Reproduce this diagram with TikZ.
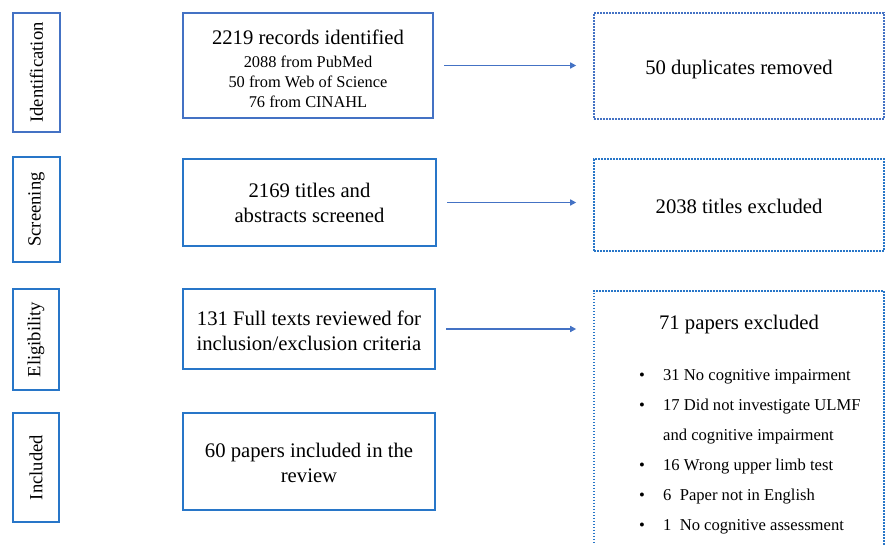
\documentclass[tikz,border=0pt]{standalone}
\usepackage{fontspec}
\setmainfont{Liberation Serif}
\usetikzlibrary{arrows.meta}

\definecolor{blueA}{RGB}{68,114,196}
\definecolor{blueB}{RGB}{40,118,200}

\newcommand{\mainfs}{\fontsize{20.7}{25}\selectfont}
\newcommand{\subfs}{\fontsize{16.4}{20}\selectfont}
\newcommand{\labfs}{\fontsize{18.6}{22}\selectfont}
\newcommand{\listfs}{\fontsize{16.6}{30}\selectfont}
\newcommand{\bitem}{\makebox[24pt][l]{\textbullet}}

\tikzset{
  stage/.style={draw=blueB, line width=2pt, rotate=90, inner sep=0pt, font=\labfs},
  stepbox/.style={draw=blueB, line width=2pt, align=center, inner sep=0pt, font=\mainfs},
  outbox/.style={draw=blueB, line width=1.6pt, dash pattern=on 1.6pt off 1.4pt, align=center, inner sep=0pt,
    text height=17.6pt, text depth=0pt, font=\mainfs},
  flow/.style={draw=blueA, line width=1.8pt, -{Triangle[length=6pt,width=6pt]}, shorten <=10pt, shorten >=17pt}
}

\begin{document}
\begin{tikzpicture}[x=1pt, y=-1pt]
\useasboundingbox (0,0) rectangle (886,545);
\clip (0,0) rectangle (886,545);

% Identification
\node[stage, draw=blueA, minimum width=119pt, minimum height=47pt] (ident) at (36.5,72.5) {Identification};
\node[stepbox, draw=blueA, font=\subfs, minimum width=250pt, minimum height=105pt] (rec) at (308,65.5)
  {\rule{0pt}{22pt}{\mainfs 2219 records identified}\\[3pt] 2088 from PubMed\\ 50 from Web of Science\\ 76 from CINAHL};
\node[outbox, draw=blueA, minimum width=290pt, minimum height=106pt] (dup) at (739,66) {50 duplicates removed};
\draw[flow] (rec.east) -- (rec.east -| dup.west);

% Screening
\node[stage, minimum width=105pt, minimum height=47pt] (scr) at (36.5,209.5) {Screening};
\node[stepbox, minimum width=253pt, minimum height=87pt] (tit) at (309.5,202.5) {2169 titles and\\abstracts screened};
\node[outbox, minimum width=290pt, minimum height=92pt] (excl) at (739,205) {2038 titles excluded};
\draw[flow] (tit.east) -- (tit.east -| excl.west);

% Eligibility
\node[stage, minimum width=101pt, minimum height=46pt] (elig) at (36,339.5) {Eligibility};
\node[stepbox, minimum width=252pt, minimum height=80pt] (full) at (309,329) {\rule{0pt}{18pt}131 Full texts reviewed for\\inclusion/exclusion criteria};
\node[outbox, text height=, text depth=, minimum width=290pt, minimum height=270pt, anchor=north] (pap) at (739,290) {};
\node[font=\mainfs] (papt) at (739,325) {71 papers excluded};
\node[font=\listfs, align=left, inner sep=0pt, anchor=north west] (papl) at (639,369)
  {\bitem 31 No cognitive impairment\\
   \bitem 17 Did not investigate ULMF\\
   \hspace*{24pt}and cognitive impairment\\
   \bitem 16 Wrong upper limb test\\
   \bitem 6\ \ Paper not in English\\
   \bitem 1\ \ No cognitive assessment};
\draw[flow] (full.east) -- (full.east -| pap.west);

% Included
\node[stage, minimum width=109pt, minimum height=46pt] (incl) at (36,467.5) {Included};
\node[stepbox, minimum width=252pt, minimum height=97pt] (fin) at (309,461.5) {\rule{0pt}{18pt}60 papers included in the\\review};

\end{tikzpicture}
\end{document}
